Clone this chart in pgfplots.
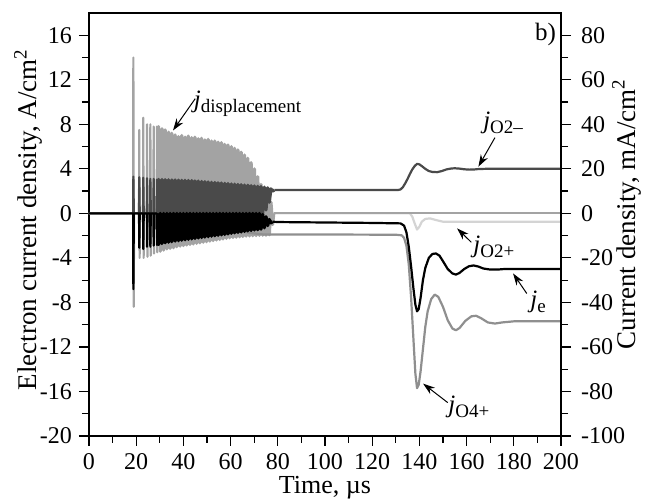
\documentclass[border=0pt]{standalone}
\usepackage{fontspec}
\setmainfont{Liberation Serif}
\usepackage{pgfplots}
\pgfplotsset{compat=1.18}
\usetikzlibrary{arrows.meta}
\definecolor{cdisp}{gray}{0.64}
\definecolor{co2m}{gray}{0.29}
\definecolor{co4p}{gray}{0.56}
\definecolor{co2p}{gray}{0.83}
\newcommand{\jl}[1]{{\fontsize{12.5}{14}\selectfont\itshape j}\raisebox{-2.5pt}{\fontsize{9.5}{11}\selectfont #1}}
\begin{document}
\begin{tikzpicture}
\pgfplotsset{
  common/.style={scale only axis, width=236pt, height=211.5pt,
    xmin=0, xmax=200,
    tick align=outside,
    major tick length=5pt, minor tick length=3.5pt,
    tick style={black, line width=0.6pt},
    axis line style={line width=0.7pt},
    /pgf/number format/assume math mode=true,
    ticklabel style={font=\fontsize{12}{14}\selectfont},
    label style={font=\fontsize{13.5}{15}\selectfont}},
  osc/.style={line width=1.6pt, line join=round},
  smooth/.style={line width=1.1pt, line join=round}
}
\begin{axis}[common, name=main,
  ymin=-20, ymax=18,
  xtick={0,20,...,200}, ytick={-20,-16,...,16},
  minor x tick num=1, minor y tick num=1,
  xtick pos=bottom, ytick pos=left,
  xlabel={Time, µs},
  xlabel style={at={([yshift=-29pt]axis description cs:0.5,0)}, anchor=base, inner sep=0pt, font=\fontsize{13}{15}\selectfont},
  ylabel={Electron current density, A/cm\textsuperscript{2}},
  ylabel style={at={([xshift=-26pt]axis description cs:0,0.512)}, anchor=base, inner sep=0pt},
]
% jO2+
\addplot[co2p, smooth] coordinates {
(0,0) (136,0) (137,-0.3) (138,-0.9) (139,-1.45) (140,-1.2) (141,-0.75) (142.5,-0.5) (144.5,-0.45) (147,-0.6) (150,-0.75) (200,-0.75)};
% displacement
\addplot[cdisp, smooth] coordinates {
(0,0) (18.7,0) (18.8,14.0) (18.95,-8.4) (19.1,0)
(21.2,0) (21.3,7.5) (21.45,-4.0) (21.6,0)
(22.9,0) (23.0,8.6) (23.15,-4.0) (23.3,0)
(24.5,0) (24.6,8.0) (24.75,-3.9) (24.9,0)
(25.9,0) (26.0,8.0) (26.15,-3.8) (26.3,0)
(27.3,0) (27.4,7.8) (27.55,-3.6) (27.7,0)
(28.7,0) (28.8,7.8) (28.95,-3.5) (29.1,0)};
\addplot[cdisp, osc] coordinates {
(29.1,0) (29.5,7.8) (30.2,-3.4) (30.9,7.6) (31.6,-3.3) (32.3,7.5) (33.0,-3.2) (33.7,7.3) (34.4,-3.15) (35.1,7.2) (35.8,-3.1)
(36.5,7.05) (37.2,-3.0) (37.9,6.9) (38.6,-2.95) (39.3,7.0) (40.0,-2.9) (40.7,6.85) (41.4,-2.85) (42.1,6.95) (42.8,-2.8)
(43.5,6.8) (44.2,-2.75) (44.9,6.85) (45.6,-2.7) (46.3,6.7) (47.0,-2.65) (47.7,6.75) (48.4,-2.6) (49.1,6.6) (49.8,-2.55)
(50.5,6.65) (51.2,-2.5) (51.9,6.5) (52.6,-2.45) (53.3,6.5) (54.0,-2.4) (54.7,6.4) (55.4,-2.35) (56.1,6.35) (56.8,-2.3)
(57.5,6.2) (58.2,-2.25) (58.9,6.15) (59.6,-2.2) (60.3,6.0) (61.0,-2.17) (61.7,5.85) (62.4,-2.14) (63.1,5.7) (63.8,-2.11)
(64.5,5.5) (65.2,-2.08) (65.9,5.25) (66.6,-2.05) (67.3,4.95) (68.0,-2.03) (68.7,4.55) (69.4,-2.01) (70.1,4.0) (70.8,-2.0)
(71.5,3.3) (72.2,-1.98) (72.9,2.6) (73.6,-1.97) (74.3,2.1) (75.0,-1.96) (75.7,1.8) (76.4,-1.93) (77.1,1.0) (77.8,-1.0)
(78.3,0)};
\addplot[cdisp, smooth] coordinates {(78.3,0) (200,0)};
% jO4+
\addplot[co4p, smooth] coordinates {
(0,0) (40,0) (50,-0.6) (60,-1.3) (68,-1.75) (74,-1.9) (100,-1.9) (130,-1.92) (132.5,-1.97) (133.5,-2.2) (134.5,-2.9)
(135.5,-4.6) (136.5,-7.6) (137.5,-11.4) (138.3,-14.4) (139,-15.7) (139.7,-15.4) (140.5,-14.2) (141.5,-12.2) (142.5,-10.2)
(143.5,-8.8) (145,-7.7) (146.5,-7.3) (148,-7.5) (150,-8.4) (152,-9.6) (154,-10.35) (155.5,-10.5) (157,-10.3) (159.5,-9.65)
(162,-9.25) (164,-9.2) (166,-9.4) (169,-9.8) (172,-9.9) (175,-9.8) (180,-9.7) (200,-9.7)};
% jO2-
\addplot[co2m, smooth] coordinates {
(0,0) (18.7,0) (18.8,3.3) (19.0,0)
(21.2,0) (21.3,3.25) (21.5,0)
(22.9,0) (23.0,3.2) (23.2,0)
(24.5,0) (24.6,3.15) (24.8,0)
(25.9,0) (26.0,3.1) (26.2,0)
(27.3,0) (27.4,3.1) (27.6,0)
(28.7,0) (28.8,3.05) (29.0,0)};
\addplot[co2m, osc] coordinates {
(29.0,0) (29.5,3.05) (30.2,0) (30.9,3.04) (31.6,0) (32.3,3.03) (33.0,0) (33.7,3.02) (34.4,0) (35.1,3.01) (35.8,0)
(36.5,3.0) (37.2,0) (37.9,2.99) (38.6,0) (39.3,2.98) (40.0,0) (40.7,2.97) (41.4,0) (42.1,2.96) (42.8,0)
(43.5,2.95) (44.2,0) (44.9,2.92) (45.6,0) (46.3,2.9) (47.0,0) (47.7,2.87) (48.4,0) (49.1,2.85) (49.8,0)
(50.5,2.83) (51.2,0) (51.9,2.8) (52.6,0) (53.3,2.78) (54.0,0) (54.7,2.75) (55.4,0) (56.1,2.73) (56.8,0)
(57.5,2.7) (58.2,0) (58.9,2.68) (59.6,0) (60.3,2.65) (61.0,0) (61.7,2.63) (62.4,0) (63.1,2.6) (63.8,0)
(64.5,2.58) (65.2,0) (65.9,2.55) (66.6,0) (67.3,2.53) (68.0,0) (68.7,2.5) (69.4,0) (70.1,2.47) (70.8,0)
(71.5,2.44) (72.2,0) (72.9,2.41) (73.6,0) (74.3,2.36) (75.0,0.3) (75.7,2.3) (76.4,1.0) (77.1,2.2) (77.8,2.0)
(78.5,2.1)};
\addplot[co2m, smooth] coordinates {
(78.5,2.1) (100,2.1) (131,2.1) (132,2.15) (133,2.35) (134,2.7) (135,3.1) (136,3.55) (137,3.95) (138,4.25) (139,4.45)
(140,4.4) (141,4.25) (142.5,4.0) (144,3.8) (145.5,3.72) (147.5,3.7) (149.5,3.8) (151.5,3.95) (153.5,4.03) (155,4.05)
(157,4.02) (159,3.96) (161,3.93) (163,3.94) (165,3.98) (168,4.0) (200,4.0)};
% je
\addplot[black, smooth] coordinates {
(0,0) (18.7,0) (18.8,-6.8) (19.0,0)
(21.2,0) (21.3,-3.1) (21.5,0)
(22.9,0) (23.0,-3.2) (23.2,0)
(24.5,0) (24.6,-3.0) (24.8,0)
(25.9,0) (26.0,-3.0) (26.2,0)
(27.3,0) (27.4,-2.9) (27.6,0)
(28.7,0) (28.8,-2.85) (29.0,0)};
\addplot[black, osc] coordinates {
(29.0,0) (29.5,-2.8) (30.2,0) (30.9,-2.72) (31.6,0) (32.3,-2.65) (33.0,0) (33.7,-2.6) (34.4,0) (35.1,-2.55) (35.8,0)
(36.5,-2.5) (37.2,0) (37.9,-2.46) (38.6,0) (39.3,-2.42) (40.0,0) (40.7,-2.38) (41.4,0) (42.1,-2.34) (42.8,0)
(43.5,-2.3) (44.2,0) (44.9,-2.26) (45.6,0) (46.3,-2.22) (47.0,0) (47.7,-2.18) (48.4,0) (49.1,-2.14) (49.8,0)
(50.5,-2.1) (51.2,0) (51.9,-2.06) (52.6,0) (53.3,-2.02) (54.0,0) (54.7,-1.98) (55.4,0) (56.1,-1.94) (56.8,0)
(57.5,-1.9) (58.2,0) (58.9,-1.86) (59.6,0) (60.3,-1.8) (61.0,0) (61.7,-1.76) (62.4,0) (63.1,-1.72) (63.8,0)
(64.5,-1.68) (65.2,0) (65.9,-1.63) (66.6,0) (67.3,-1.58) (68.0,0) (68.7,-1.54) (69.4,0) (70.1,-1.5) (70.8,0)
(71.5,-1.48) (72.2,0) (72.9,-1.42) (73.6,-0.1) (74.3,-1.3) (75.0,-0.3) (75.7,-1.1) (76.4,-0.55) (77.1,-0.85) (77.8,-0.75)};
\addplot[black, smooth] coordinates {
(77.8,-0.75) (80,-0.78) (100,-0.82) (120,-0.86) (132,-0.9) (133.5,-1.1) (134.5,-1.7) (135.5,-3.0) (136.5,-4.8) (137.5,-6.8) (138.3,-8.2)
(139,-8.8) (139.7,-8.6) (140.5,-7.6) (141.5,-6.0) (142.5,-4.9) (144,-4.0) (145.5,-3.65) (147,-3.6) (148.5,-3.8) (150,-4.3)
(152,-5.0) (154,-5.4) (155.5,-5.5) (157,-5.35) (159,-5.0) (161,-4.75) (163,-4.68) (165,-4.78) (167,-4.95) (170,-5.05)
(173,-5.05) (176,-5.0) (200,-5.0)};
% annotations
\node[anchor=base west, inner sep=0pt] at (axis cs:44.3,9.5) {\jl{displacement}};
\draw[line width=0.5pt, -{Stealth[length=6pt,width=4pt]}] (axis cs:45,10.3) -- (axis cs:35.6,7.45);
\node[anchor=base west, inner sep=0pt] at (axis cs:166.9,7.6) {\jl{O2–}};
\draw[line width=0.5pt, -{Stealth[length=6pt,width=4pt]}] (axis cs:172,6.8) -- (axis cs:165,4.2);
\node[anchor=base west, inner sep=0pt] at (axis cs:162.7,-3.5) {\jl{O2+}};
\draw[line width=0.5pt, -{Stealth[length=6pt,width=4pt]}] (axis cs:162,-2.6) -- (axis cs:156,-1.35);
\node[anchor=base west, inner sep=0pt] at (axis cs:186.9,-8.44) {\jl{e}};
\draw[line width=0.5pt, -{Stealth[length=6pt,width=4pt]}] (axis cs:185.5,-7.2) -- (axis cs:179.7,-5.4);
\node[anchor=base west, inner sep=0pt] at (axis cs:152.1,-17.9) {\jl{O4+}};
\draw[line width=0.5pt, -{Stealth[length=6pt,width=4pt]}] (axis cs:152,-17.0) -- (axis cs:141.6,-15.3);
\node[anchor=base east, inner sep=0pt, font=\fontsize{12.5}{14}\selectfont] at (axis cs:198,15.5) {b)};
\end{axis}
\begin{axis}[common,
  ymin=-100, ymax=90,
  axis x line=none, axis y line*=right,
  ytick={-100,-80,...,80}, minor y tick num=1,
  yticklabel style={xshift=1.5pt},
  ylabel={Current density, mA/cm\textsuperscript{2}},
  ylabel style={at={([xshift=37pt]axis description cs:1,0.525)}, anchor=base, inner sep=0pt},
]
\addplot[draw=none] coordinates {(0,0) (200,0)};
\end{axis}
\pgfresetboundingbox
\path[use as bounding box] ([xshift=-44.5pt,yshift=-32.5pt]main.south west) rectangle ([xshift=46.5pt,yshift=6.5pt]main.north east);
\end{tikzpicture}
\end{document}
